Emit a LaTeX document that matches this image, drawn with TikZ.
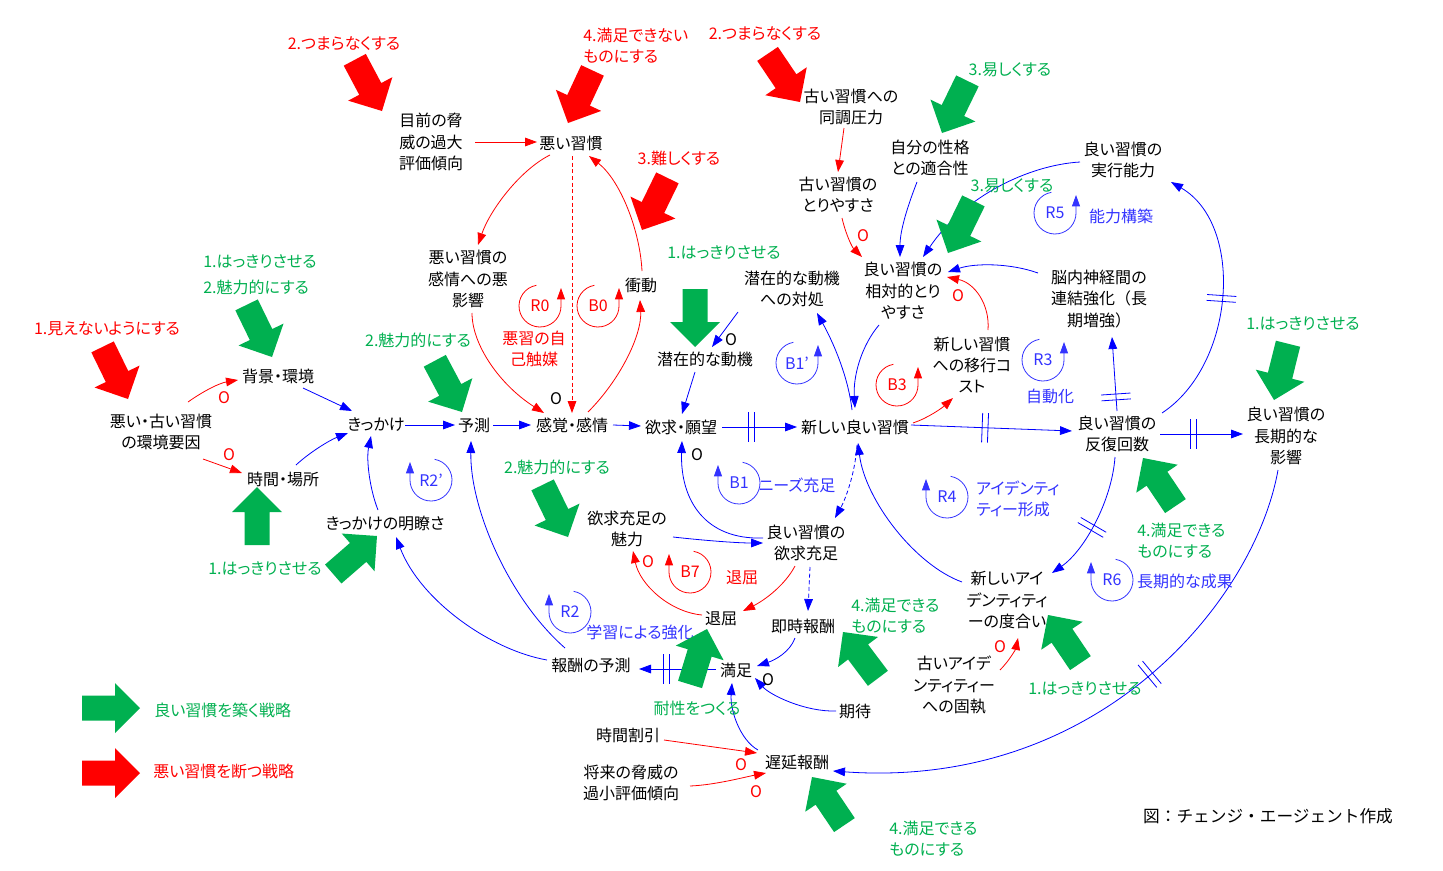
\documentclass[tikz,border=0pt]{standalone}
\usepackage{fontspec}
\setmainfont{Noto Sans CJK JP}[RawFeature={+palt}]
\newfontfamily\fullw{Noto Sans CJK JP}
\usetikzlibrary{arrows.meta,decorations.markings}
\definecolor{cgreen}{RGB}{0,176,80}
\definecolor{cred}{RGB}{255,0,0}
\definecolor{cblue}{RGB}{0,0,255}
\definecolor{cloop}{RGB}{51,51,255}
\newcommand\bigarrow[3]{\fill[#1,shift={(#2)},x=0.75pt,y=0.75pt,rotate=#3] (0,0) -- (-25,25) -- (-25,12.5) -- (-58,12.5) -- (-58,-12.5) -- (-25,-12.5) -- (-25,-25) -- cycle;}
\newcommand\loopright[4]{\begin{scope}[shift={(#2)},x=0.75pt,y=0.75pt]
\draw[#3,line width=0.6pt,-{Triangle[length=8.5pt,width=6pt]}] (100:21) arc[start angle=100,end angle=360,radius=21] -- ++(0,18);
\node[text=#3,inner sep=0pt] (#1) at (0,0) {#4};
\end{scope}}
\newcommand\loopleft[4]{\begin{scope}[shift={(#2)},x=0.75pt,y=0.75pt]
\draw[#3,line width=0.6pt,-{Triangle[length=8.5pt,width=6pt]}] (80:21) arc[start angle=80,end angle=-180,radius=21] -- ++(0,18);
\node[text=#3,inner sep=0pt] (#1) at (0,0) {#4};
\end{scope}}
\tikzset{
  every node/.style={font=\fontsize{12pt}{16pt}\selectfont},
  var/.style={align=center,inner sep=1pt},
  glab/.style={text=cgreen,align=left,inner sep=0pt},
  rlab/.style={text=cred,align=left,inner sep=0pt},
  blab/.style={text=cloop,align=left,inner sep=0pt},
  bc/.style={cblue,line width=0.6pt,-{Triangle[length=9pt,width=6.5pt]}},
  rc/.style={cred,line width=0.6pt,-{Triangle[length=9pt,width=6.5pt]}},
  dsh/.style={dash pattern=on 3pt off 2pt},
  pol/.style={inner sep=0pt},
  delaymark/.style={postaction={decorate,decoration={markings,mark=at position #1 with {\draw[cblue,line width=0.6pt,-,solid] (-2.2pt,-11pt) -- (-2.2pt,11pt) (2.2pt,-11pt) -- (2.2pt,11pt);}}}}
}
\begin{document}
\begin{tikzpicture}[x=0.75pt,y=-0.75pt]
\fill[white] (0,0) rectangle (1443,871);
\useasboundingbox (0,0) rectangle (1443,871);
% variables
\node[var] (kyoui) at (431,142) {目前の脅\\威の過大\\評価傾向};
\node[var] (bad) at (571,143) {悪い習慣};
\node[var] (doucho) at (851,107) {古い習慣への\\同調圧力};
\node[var] (seikaku) at (930,158) {自分の性格\\との適合性};
\node[var] (jikkou) at (1123,160) {良い習慣の\\実行能力};
\node[var] (toriyasu) at (838,195) {古い習慣の\\とりやすさ};
\node[var] (akueikyo) at (468,279) {悪い習慣の\\感情への悪\\影響};
\node[var] (shodo) at (641,285) {衝動};
\node[var] (taisho) at (792,289) {潜在的な動機\\への対処};
\node[var] (soutai) at (903,291) {良い習慣の\\相対的とり\\やすさ};
\node[var,font=\fontsize{12pt}{16pt}\fullw] (nounai) at (1099,299) {脳内神経間の\\連結強化（長\\期増強）};
\node[var] (douki) at (705,359) {潜在的な動機};
\node[var] (ikou) at (972,365) {新しい習慣\\への移行コ\\スト};
\node[var] (haikei) at (278,376) {背景・環境};
\node[var] (kankyo) at (161,432) {悪い・古い習慣\\の環境要因};
\node[var] (kikkake) at (376,425) {きっかけ};
\node[var] (yosoku) at (474,425) {予測};
\node[var] (kankaku) at (572,425) {感覚・感情};
\node[var] (yokkyu) at (681,427) {欲求・願望};
\node[var] (newgood) at (855,427) {新しい良い習慣};
\node[var] (hanpuku) at (1117,434) {良い習慣の\\反復回数};
\node[var] (choki) at (1286,436) {良い習慣の\\長期的な\\影響};
\node[var] (jikan) at (283,479) {時間・場所};
\node[var] (meiryo) at (385,523) {きっかけの明瞭さ};
\node[var] (miryoku) at (627,529) {欲求充足の\\魅力};
\node[var] (juusoku) at (806,543) {良い習慣の\\欲求充足};
\node[var] (identity) at (1007,600) {新しいアイ\\デンティティ\\ーの度合い};
\node[var] (taikutsu) at (721,619) {退屈};
\node[var] (sokuji) at (803,626) {即時報酬};
\node[var] (hoshuyosoku) at (591,665) {報酬の予測};
\node[var] (manzoku) at (736,670) {満足};
\node[var] (koshitsu) at (954,685) {古いアイデ\\ンティティー\\への固執};
\node[var] (kitai) at (855,711) {期待};
\node[var] (waribiki) at (628,735) {時間割引};
\node[var] (chien) at (797,762) {遅延報酬};
\node[var] (shorai) at (631,783) {将来の脅威の\\過小評価傾向};
\node[var,font=\fontsize{12.5pt}{16pt}\fullw] (credit) at (1268,816) {図：チェンジ・エージェント作成};
% blue links
\draw[bc] ([shift={(25,12)}]haikei.center) -- ([shift={(-24,-14)}]kikkake.center);
\draw[bc] ([shift={(13,-14)}]jikan.center) .. controls (310,452) and (330,440) .. ([shift={(-28,8)}]kikkake.center);
\draw[bc] ([shift={(29,0)}]kikkake.center) -- ([shift={(-19,0)}]yosoku.center);
\draw[bc] ([shift={(19,0)}]yosoku.center) -- ([shift={(-41,0)}]kankaku.center);
\draw[bc] ([shift={(41,0)}]kankaku.center) -- ([shift={(-40,-1)}]yokkyu.center);
\draw[bc,delaymark=0.39] ([shift={(41,0)}]yokkyu.center) -- ([shift={(-58,0)}]newgood.center);
\draw[bc,delaymark=0.46] ([shift={(56,-2)}]newgood.center) -- ([shift={(-45,-3)}]hanpuku.center);
\draw[bc,delaymark=0.4] ([shift={(43,0)}]hanpuku.center) -- ([shift={(-43,-2)}]choki.center);
\draw[bc,delaymark=0.19] ([shift={(0,-23)}]hanpuku.center) -- ([shift={(13,38)}]nounai.center);
\draw[bc,delaymark=0.5] ([shift={(45,-21)}]hanpuku.center) .. controls (1235,365) and (1245,225) .. ([shift={(48,22)}]jikkou.center);
\draw[bc] ([shift={(-43,2)}]jikkou.center) .. controls (1030,165) and (965,195) .. ([shift={(20,-34)}]soutai.center);
\draw[bc] ([shift={(-13,24)}]seikaku.center) .. controls (908,205) and (900,230) .. ([shift={(-3,-34)}]soutai.center);
\draw[bc] ([shift={(-61,-26)}]nounai.center) .. controls (1010,263) and (975,263) .. ([shift={(45,-19)}]soutai.center);
\draw[bc] ([shift={(-24,34)}]soutai.center) .. controls (862,345) and (853,375) .. ([shift={(0,-19)}]newgood.center);
\draw[bc] ([shift={(-3,-17)}]newgood.center) .. controls (848,375) and (832,340) .. ([shift={(25,24)}]taisho.center);
\draw[bc] ([shift={(-54,23)}]taisho.center) -- ([shift={(7,-12)}]douki.center);
\draw[bc] ([shift={(-10,13)}]douki.center) -- ([shift={(1,-13)}]yokkyu.center);
\draw[bc] ([shift={(-43,-5)}]juusoku.center) .. controls (705,540) and (680,500) .. ([shift={(1,14)}]yokkyu.center);
\draw[bc,dsh] ([shift={(2,18)}]newgood.center) .. controls (855,475) and (845,500) .. ([shift={(29,-25)}]juusoku.center);
\draw[bc] ([shift={(46,8)}]miryoku.center) .. controls (700,540) and (735,543) .. ([shift={(-43,0)}]juusoku.center);
\draw[bc,dsh] ([shift={(4,24)}]juusoku.center) -- ([shift={(5,-15)}]sokuji.center);
\draw[bc] ([shift={(-8,12)}]sokuji.center) .. controls (790,652) and (775,660) .. ([shift={(21,-4)}]manzoku.center);
\draw[bc] ([shift={(-19,0)}]kitai.center) .. controls (805,712) and (770,695) .. ([shift={(19,8)}]manzoku.center);
\draw[bc] ([shift={(-39,-12)}]chien.center) .. controls (740,740) and (730,710) .. ([shift={(-4,13)}]manzoku.center);
\draw[bc,delaymark=0.64] ([shift={(-20,-1)}]manzoku.center) -- ([shift={(48,4)}]hoshuyosoku.center);
\draw[bc] ([shift={(-44,-5)}]hoshuyosoku.center) .. controls (490,650) and (420,600) .. ([shift={(11,14)}]meiryo.center);
\draw[bc] ([shift={(-26,-17)}]hoshuyosoku.center) .. controls (510,600) and (470,510) .. ([shift={(-3,16)}]yosoku.center);
\draw[bc] ([shift={(-7,-13)}]meiryo.center) .. controls (370,490) and (366,460) .. ([shift={(-5,11)}]kikkake.center);
\draw[bc,delaymark=0.42] ([shift={(-8,34)}]choki.center) .. controls (1255,600) and (1100,790) .. ([shift={(36,9)}]chien.center);
\draw[bc,delaymark=0.55] ([shift={(-2,23)}]hanpuku.center) .. controls (1112,500) and (1085,550) .. ([shift={(45,-27)}]identity.center);
\draw[bc] ([shift={(-45,-18)}]identity.center) .. controls (915,565) and (865,500) .. ([shift={(3,16)}]newgood.center);
% red links
\draw[rc] ([shift={(27,-30)}]kankyo.center) .. controls (205,390) and (220,383) .. ([shift={(-40,4)}]haikei.center);
\draw[rc] ([shift={(42,27)}]kankyo.center) -- ([shift={(-41,-6)}]jikan.center);
\draw[rc] ([shift={(44,0)}]kyoui.center) -- ([shift={(-34,-1)}]bad.center);
\draw[rc] ([shift={(-21,12)}]bad.center) .. controls (520,170) and (490,210) .. ([shift={(10,-34)}]akueikyo.center);
\draw[rc] ([shift={(4,34)}]akueikyo.center) .. controls (472,345) and (500,385) .. ([shift={(-28,-12)}]kankaku.center);
\draw[rc,dsh] ([shift={(1,13)}]bad.center) -- ([shift={(0,-12)}]kankaku.center);
\draw[rc] ([shift={(16,-13)}]kankaku.center) .. controls (620,380) and (642,335) .. ([shift={(-1,15)}]shodo.center);
\draw[rc] ([shift={(1,-14)}]shodo.center) .. controls (640,230) and (620,180) .. ([shift={(18,13)}]bad.center);
\draw[rc] ([shift={(-7,21)}]doucho.center) -- ([shift={(0,-23)}]toriyasu.center);
\draw[rc] ([shift={(4,23)}]toriyasu.center) .. controls (846,235) and (852,247) .. ([shift={(-41,-34)}]soutai.center);
\draw[rc] ([shift={(16,-35)}]ikou.center) .. controls (990,305) and (975,283) .. ([shift={(44,-14)}]soutai.center);
\draw[rc] ([shift={(58,-4)}]newgood.center) .. controls (928,418) and (942,408) .. ([shift={(-19,33)}]ikou.center);
\draw[rc] ([shift={(-11,23)}]juusoku.center) .. controls (785,585) and (765,600) .. ([shift={(22,-8)}]taikutsu.center);
\draw[rc] ([shift={(-19,-4)}]taikutsu.center) .. controls (670,612) and (640,585) .. ([shift={(6,22)}]miryoku.center);
\draw[rc] ([shift={(36,5)}]waribiki.center) -- ([shift={(-40,-9)}]chien.center);
\draw[rc] ([shift={(59,3)}]shorai.center) .. controls (715,785) and (745,777) .. ([shift={(-31,11)}]chien.center);
\draw[rc] ([shift={(46,-15)}]koshitsu.center) .. controls (1010,660) and (1016,648) .. ([shift={(11,38)}]identity.center);
% polarity marks
\node[pol] (ob1) at (556,399) {O};
\node[pol] (ob2) at (731,340) {O};
\node[pol] (ob3) at (697,455) {O};
\node[pol] (ob4) at (768,680) {O};
\node[pol,text=cred] (or1) at (224,398) {O};
\node[pol,text=cred] (or2) at (229,455) {O};
\node[pol,text=cred] (or3) at (863,236) {O};
\node[pol,text=cred] (or4) at (958,296) {O};
\node[pol,text=cred] (or5) at (648,562) {O};
\node[pol,text=cred] (or6) at (1000,647) {O};
\node[pol,text=cred] (or7) at (741,765) {O};
\node[pol,text=cred] (or8) at (756,792) {O};
% loops
\loopright{lR0}{540,306}{cred}{R0}
\loopright{lB0}{598,306}{cred}{B0}
\loopright{lB1p}{797,363}{cloop}{B1’}
\loopright{lB3}{897,385}{cred}{B3}
\loopright{lR3}{1043,360}{cloop}{R3}
\loopright{lR5}{1055,213}{cloop}{R5}
\loopleft{lR2p}{431,480}{cloop}{R2’}
\loopleft{lB1}{739,483}{cloop}{B1}
\loopleft{lR4}{947,497}{cloop}{R4}
\loopleft{lB7}{690,572}{cred}{B7}
\loopleft{lR2}{570,612}{cloop}{R2}
\loopleft{lR6}{1112,580}{cloop}{R6}
% loop names
\node[blab] (t1) at (1121,216) {能力構築};
\node[blab] (t2) at (1050,396) {自動化};
\node[blab] (t3) at (797,485) {ニーズ充足};
\node[blab,anchor=west] (t4) at (976,499) {アイデンティ\\ティー形成};
\node[blab] (t5) at (640,632) {学習による強化};
\node[blab] (t6) at (1185,581) {長期的な成果};
\node[rlab,align=center] (t7) at (534,349) {悪習の自\\己触媒};
\node[rlab] (t8) at (742,578) {退屈};
% strategy arrows
\bigarrow{cred}{382,111}{-62}
\bigarrow{cred}{568,123}{-115}
\bigarrow{cred}{800,102}{-56}
\bigarrow{cred}{642,230}{-116}
\bigarrow{cred}{128,399}{-64}
\bigarrow{cred}{140,773}{0}
\bigarrow{cgreen}{942,133}{-116}
\bigarrow{cgreen}{948,253}{-116}
\bigarrow{cgreen}{272,357}{-64}
\bigarrow{cgreen}{695,347}{-90}
\bigarrow{cgreen}{462,412}{-62}
\bigarrow{cgreen}{1274,400}{-104}
\bigarrow{cgreen}{257,487}{90}
\bigarrow{cgreen}{377,536}{41}
\bigarrow{cgreen}{568,537}{-64}
\bigarrow{cgreen}{1143,458}{124}
\bigarrow{cgreen}{707,629}{73}
\bigarrow{cgreen}{843,632}{127}
\bigarrow{cgreen}{1048,615}{124}
\bigarrow{cgreen}{812,777}{124}
\bigarrow{cgreen}{140,708}{0}
% strategy labels
\node[glab] (g1) at (1010,70) {3.易しくする};
\node[glab] (g2) at (1012,186) {3.易しくする};
\node[glab,anchor=west] (g3) at (203,262) {1.はっきりさせる};
\node[glab,anchor=west] (g4) at (203,287) {2.魅力的にする};
\node[glab] (g5) at (724,253) {1.はっきりさせる};
\node[glab] (g6) at (418,340) {2.魅力的にする};
\node[glab] (g7) at (1303,324) {1.はっきりさせる};
\node[glab] (g8) at (557,467) {2.魅力的にする};
\node[glab] (g9) at (265,569) {1.はっきりさせる};
\node[glab,anchor=west] (g10) at (1137,541) {4.満足できる\\ものにする};
\node[glab,anchor=west] (g11) at (851,616) {4.満足できる\\ものにする};
\node[glab] (g12) at (1085,689) {1.はっきりさせる};
\node[glab] (g13) at (697,708) {耐性をつくる};
\node[glab,anchor=west] (g14) at (889,839) {4.満足できる\\ものにする};
\node[glab,anchor=west] (g15) at (154,710) {良い習慣を築く戦略};
\node[rlab] (r1) at (344,44) {2.つまらなくする};
\node[rlab,anchor=west] (r2) at (583,46) {4.満足できない\\ものにする};
\node[rlab] (r3) at (765,34) {2.つまらなくする};
\node[rlab] (r4) at (679,158) {3.難しくする};
\node[rlab] (r5) at (107,329) {1.見えないようにする};
\node[rlab,anchor=west] (r8) at (153,771) {悪い習慣を断つ戦略};
\end{tikzpicture}
\end{document}
